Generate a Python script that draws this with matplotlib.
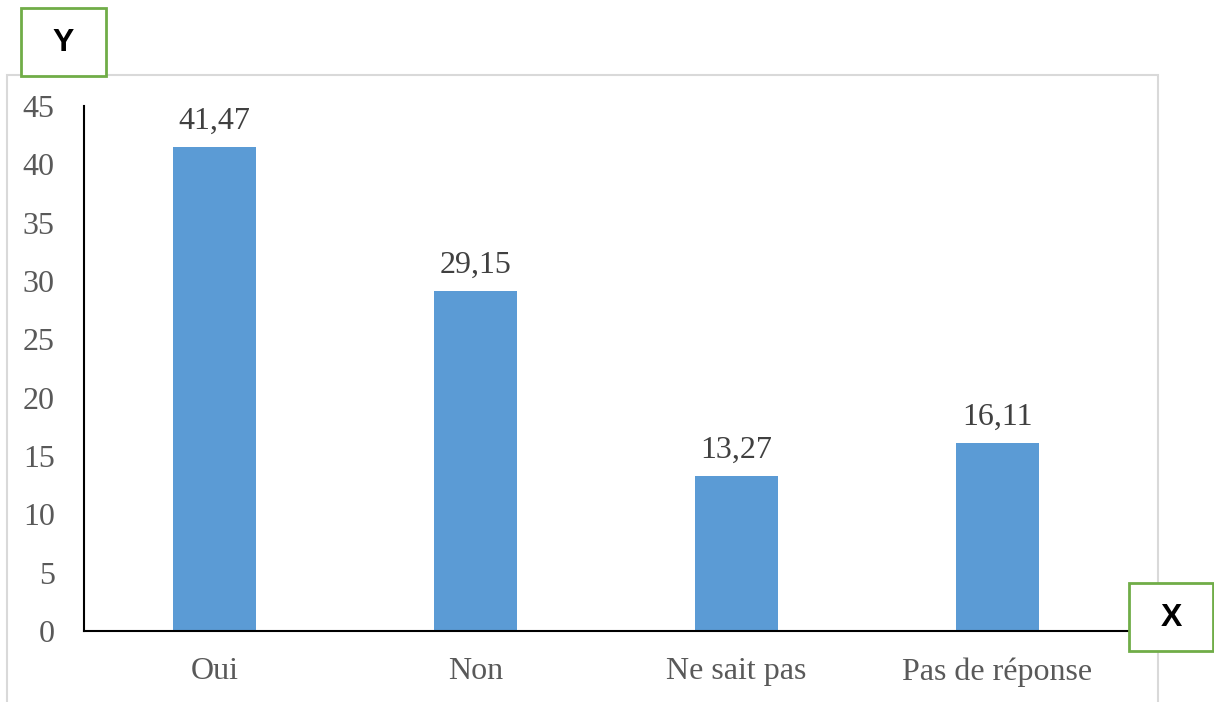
import matplotlib
matplotlib.use("Agg")
import matplotlib.pyplot as plt
from matplotlib.patches import Rectangle

categories = ["Oui", "Non", "Ne sait pas", "Pas de réponse"]
values = [41.47, 29.15, 13.27, 16.11]
labels = ["41,47", "29,15", "13,27", "16,11"]
yticks = [0, 5, 10, 15, 20, 25, 30, 35, 40, 45]

W, H = 1214, 702
DPI = 100
fig = plt.figure(figsize=(W / DPI, H / DPI), dpi=DPI)

def fx(px):
    return px / W

def fy(py):
    return (H - py) / H

# chart area border
fig.patches.append(Rectangle((fx(7), fy(720)), fx(1158) - fx(7), fy(75) - fy(720),
                             transform=fig.transFigure, fill=False,
                             edgecolor="#D9D9D9", linewidth=1.5, zorder=0))

ax = fig.add_axes([fx(84), fy(631), fx(1128) - fx(84), fy(106) - fy(631)])
x = range(len(categories))
ax.bar(x, values, width=0.315, color="#5B9BD5", zorder=2)
ax.set_xlim(-0.5, len(categories) - 0.5)
ax.set_ylim(0, 45)
ax.set_yticks(yticks)
ax.set_yticklabels([str(t) for t in yticks])
ax.set_xticks(list(x))
ax.set_xticklabels(categories)
for s in ["top", "right"]:
    ax.spines[s].set_visible(False)
for s in ["left", "bottom"]:
    ax.spines[s].set_color("black")
    ax.spines[s].set_linewidth(1.5)
ax.tick_params(axis="both", length=0, labelsize=23, labelcolor="#595959")
ax.tick_params(axis="y", pad=21)
ax.tick_params(axis="x", pad=19)
for lab in ax.get_xticklabels() + ax.get_yticklabels():
    lab.set_family("Liberation Serif")

for xi, v, lab in zip(x, values, labels):
    ax.annotate(lab, (xi, v), xytext=(0, 8), textcoords="offset points",
                ha="center", va="bottom", fontsize=23, color="#404040",
                family="Liberation Serif")

# Y box
fig.patches.append(Rectangle((fx(21), fy(76)), fx(106) - fx(21), fy(8) - fy(76),
                             transform=fig.transFigure, facecolor="white",
                             edgecolor="#70AD47", linewidth=2, zorder=5))
fig.text(fx(63), fy(43), "Y", ha="center", va="center", fontsize=23,
         fontweight="bold", family="Liberation Sans", color="black", zorder=6)

# X box
fig.patches.append(Rectangle((fx(1129), fy(651)), fx(1213) - fx(1129), fy(583) - fy(651),
                             transform=fig.transFigure, facecolor="white",
                             edgecolor="#70AD47", linewidth=2, zorder=5))
fig.text(fx(1171), fy(618), "X", ha="center", va="center", fontsize=23,
         fontweight="bold", family="Liberation Sans", color="black", zorder=6)

fig.savefig("out.png", dpi=DPI)
